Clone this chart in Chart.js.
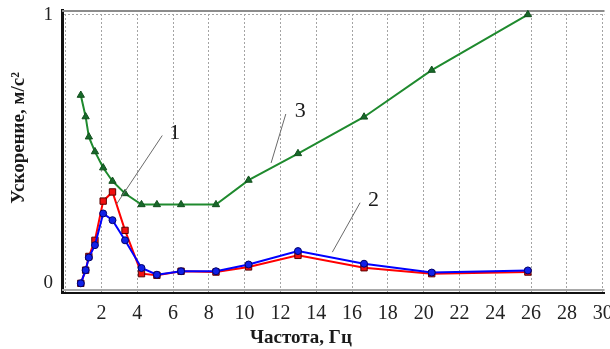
<!DOCTYPE html>
<html>
<head>
<meta charset="utf-8">
<script src="https://cdn.jsdelivr.net/npm/chart.js@4/dist/chart.umd.min.js"></script>
<style>
  html, body { margin: 0; padding: 0; background: #fff; }
  canvas { display: block; }
</style>
</head>
<body>
<canvas id="chart" width="610" height="349"></canvas>
<script>
// frequency, Hz (shared by all three curves)
const frequency = [0.85, 1.12, 1.3, 1.64, 2.1, 2.62, 3.32, 4.24, 5.1, 6.45, 8.4, 10.22, 12.98, 16.67, 20.45, 25.82];
// acceleration, m/s^2
const curve1 = [0, 0.049, 0.10, 0.16, 0.306, 0.34, 0.197, 0.036, 0.03, 0.045, 0.042, 0.061, 0.104, 0.058, 0.036, 0.042];
const curve2 = [0, 0.049, 0.096, 0.142, 0.26, 0.235, 0.16, 0.057, 0.032, 0.045, 0.045, 0.07, 0.12, 0.073, 0.04, 0.048];
const curve3 = [0.70, 0.62, 0.545, 0.49, 0.43, 0.38, 0.334, 0.293, 0.293, 0.293, 0.293, 0.384, 0.483, 0.619, 0.793, 1.0];

const xTickLabels = [2, 4, 6, 8, 10, 12, 14, 16, 18, 20, 22, 24, 26, 28, 30];
const yTickLabels = [0, 1];

const xTitle = 'Частота, Гц';
const yTitle = 'Ускорение, м/с²';

// curve numbers with leader lines, in data units
const calloutNames = ['1', '2', '3'];
const calloutAt = [[6.1, 0.56], [17.2, 0.31], [13.1, 0.64]];
const leaderFrom = [[5.4, 0.55], [16.45, 0.30], [12.3, 0.63]];
const leaderTo = [[2.85, 0.295], [14.9, 0.116], [11.48, 0.448]];

const serif = "'Liberation Serif', 'DejaVu Serif', serif";

const toPoints = ys => ys.map((y, i) => ({ x: frequency[i], y: y }));

const decorations = {
    id: 'decorations',
    beforeDatasetsDraw(chart) {
        const { ctx, chartArea: a } = chart;
        ctx.save();
        ctx.lineWidth = 2;
        ctx.strokeStyle = '#8c8c8c';
        ctx.beginPath();
        ctx.moveTo(a.left, a.top + 1);
        ctx.lineTo(a.right, a.top + 1);
        ctx.stroke();
        ctx.strokeStyle = '#a8a8a8';
        ctx.beginPath();
        ctx.moveTo(a.left, a.bottom - 3);
        ctx.lineTo(a.right, a.bottom - 3);
        ctx.stroke();
        ctx.restore();
    },
    afterDraw(chart) {
        const { ctx } = chart;
        const xs = chart.scales.x, ys = chart.scales.y;
        ctx.save();
        // leader lines
        ctx.strokeStyle = '#6a6a6a';
        ctx.lineWidth = 1;
        leaderFrom.forEach((p, i) => {
            const q = leaderTo[i];
            ctx.beginPath();
            ctx.moveTo(xs.getPixelForValue(p[0]), ys.getPixelForValue(p[1]));
            ctx.lineTo(xs.getPixelForValue(q[0]), ys.getPixelForValue(q[1]));
            ctx.stroke();
        });
        ctx.fillStyle = '#1a1a1a';
        ctx.textAlign = 'center';
        ctx.textBaseline = 'middle';
        ctx.font = '22px ' + serif;
        calloutNames.forEach((name, i) => {
            ctx.fillText(name, xs.getPixelForValue(calloutAt[i][0]), ys.getPixelForValue(calloutAt[i][1]));
        });
        // axis titles
        ctx.font = 'bold 19px ' + serif;
        ctx.fillText(xTitle, 301, 338);
        ctx.translate(19, 138);
        ctx.rotate(-Math.PI / 2);
        ctx.fillText(yTitle, 0, 0);
        ctx.restore();
    }
};

new Chart(document.getElementById('chart'), {
    type: 'scatter',
    data: {
        datasets: [
            {
                label: '2',
                data: toPoints(curve2),
                showLine: true,
                borderColor: '#0000ff',
                borderWidth: 2,
                pointStyle: 'circle',
                pointRadius: 3.5,
                pointBackgroundColor: '#1020e8',
                pointBorderColor: '#00006a',
                pointBorderWidth: 1
            },
            {
                label: '1',
                data: toPoints(curve1),
                showLine: true,
                borderColor: '#ff0000',
                borderWidth: 2,
                pointStyle: 'rect',
                pointRadius: 4.5,
                pointBackgroundColor: '#f01010',
                pointBorderColor: '#5a0000',
                pointBorderWidth: 1
            },
            {
                label: '3',
                data: toPoints(curve3),
                showLine: true,
                borderColor: '#1f8a2e',
                borderWidth: 2,
                pointStyle: 'triangle',
                pointRadius: 4.2,
                pointBackgroundColor: '#17692a',
                pointBorderColor: '#124f1d',
                pointBorderWidth: 1
            }
        ]
    },
    options: {
        responsive: false,
        animation: false,
        devicePixelRatio: 1,
        layout: { padding: { top: 10, right: 1, left: 0, bottom: 0 } },
        plugins: {
            legend: { display: false },
            tooltip: { enabled: false }
        },
        elements: { line: { tension: 0 } },
        scales: {
            x: {
                type: 'linear',
                position: 'bottom',
                min: -0.2,
                max: 30.1,
                afterFit: s => { s.height = 56; s.paddingLeft = 0; s.paddingRight = 0; },
                ticks: {
                    stepSize: 2,
                    includeBounds: false,
                    autoSkip: false,
                    maxRotation: 0,
                    padding: 9,
                    color: '#222',
                    font: { family: serif, size: 20 },
                    callback: v => xTickLabels.includes(v) ? String(v) : ''
                },
                grid: { color: '#a4a4a4', lineWidth: 1, drawTicks: false },
                border: { color: '#111', width: 2, dash: [2, 2] }
            },
            y: {
                type: 'linear',
                min: -0.036,
                max: 1.017,
                afterFit: s => { s.width = 62; s.paddingTop = 0; s.paddingBottom = 0; },
                ticks: {
                    stepSize: 1,
                    includeBounds: false,
                    padding: 9,
                    color: '#222',
                    font: { family: serif, size: 19 },
                    callback: v => yTickLabels.includes(v) ? String(v) : ''
                },
                grid: {
                    color: c => (c.tick && c.tick.value === 1) ? '#a4a4a4' : 'rgba(0,0,0,0)',
                    lineWidth: 1,
                    drawTicks: false
                },
                border: { color: '#111', width: 3, dash: [2, 2] }
            }
        }
    },
    plugins: [decorations]
});
</script>
</body>
</html>
